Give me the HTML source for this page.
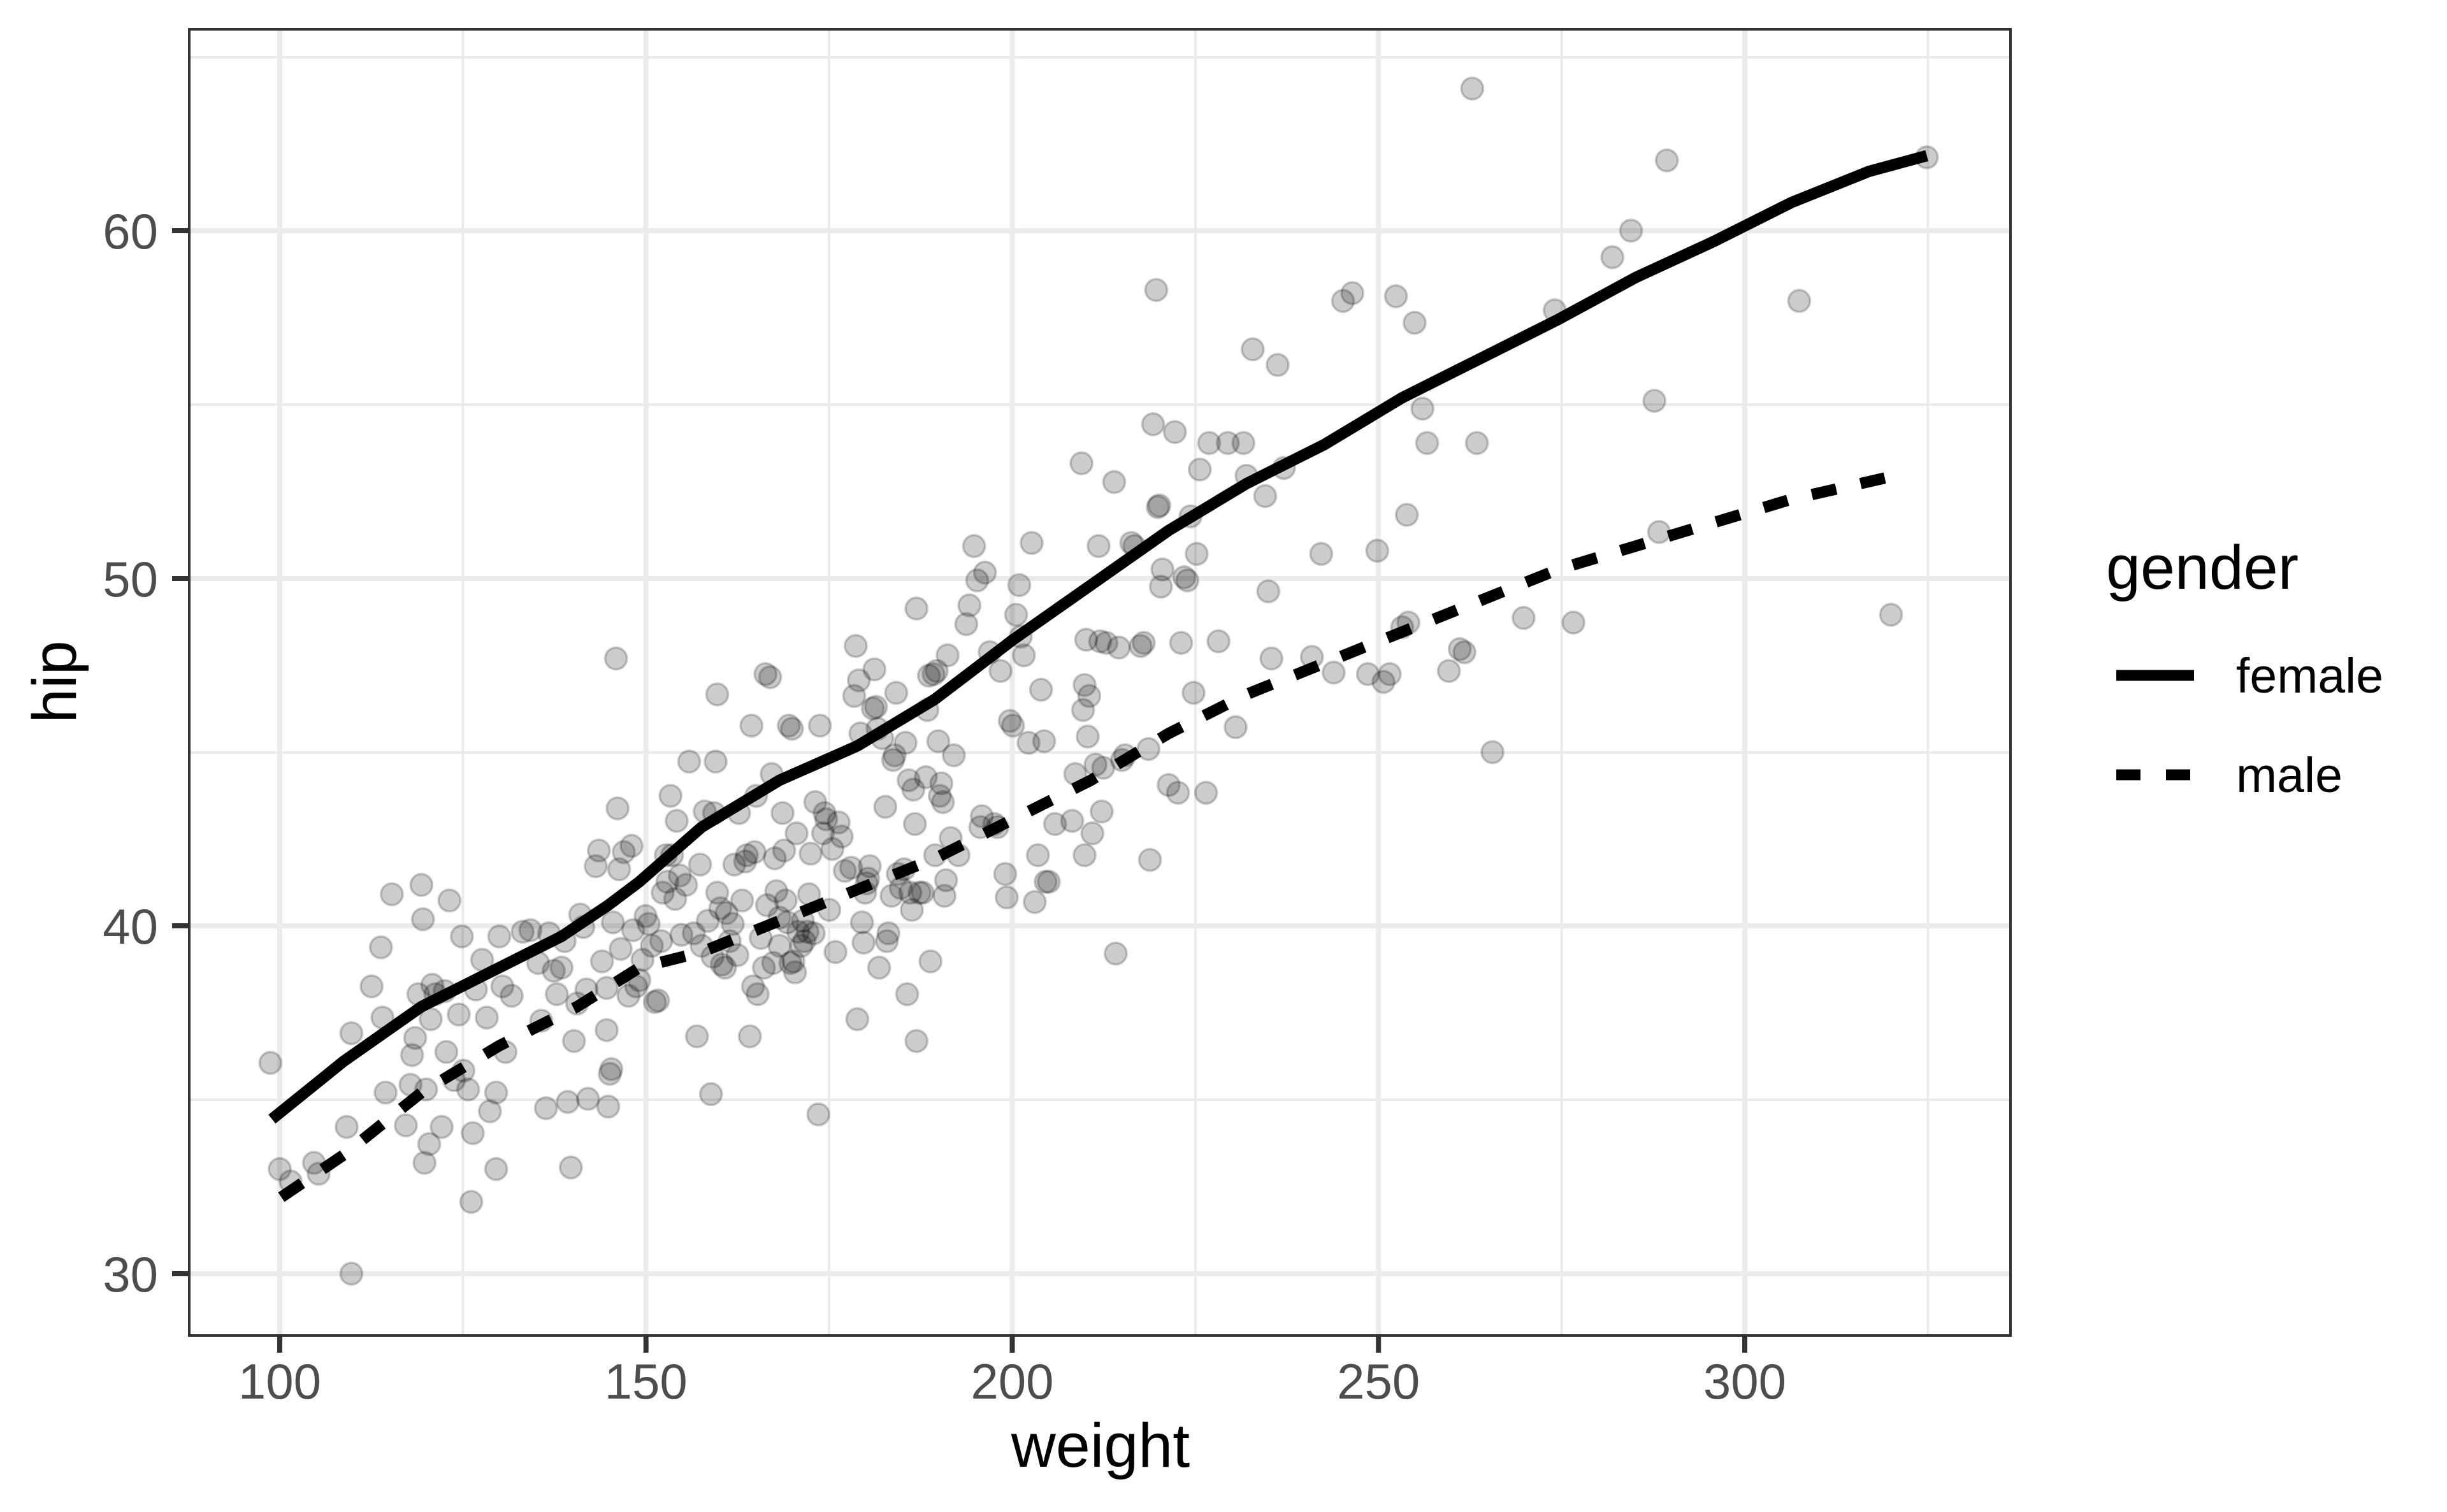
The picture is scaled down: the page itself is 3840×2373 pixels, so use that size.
<!DOCTYPE html>
<html><head><meta charset="utf-8"><style>
html,body{margin:0;padding:0;background:#fff;}
svg{display:block;font-family:"Liberation Sans",Arial,sans-serif;}
</style></head><body>
<svg width="3840" height="2373" viewBox="0 0 3840 2373" xmlns="http://www.w3.org/2000/svg">
<rect width="3840" height="2373" fill="#fff"/>
<defs><clipPath id="pc"><rect x="297" y="46" width="2858" height="2050"/></clipPath></defs>
<!-- minor grid -->
<g stroke="#ebebeb" stroke-width="4">
<line x1="726.4" y1="46" x2="726.4" y2="2096"/>
<line x1="1301" y1="46" x2="1301" y2="2096"/>
<line x1="1876" y1="46" x2="1876" y2="2096"/>
<line x1="2450.6" y1="46" x2="2450.6" y2="2096"/>
<line x1="3025.4" y1="46" x2="3025.4" y2="2096"/>
<line x1="297" y1="1726" x2="3155" y2="1726"/>
<line x1="297" y1="1181" x2="3155" y2="1181"/>
<line x1="297" y1="635" x2="3155" y2="635"/>
<line x1="297" y1="90" x2="3155" y2="90"/>
</g>
<!-- major grid -->
<g stroke="#ebebeb" stroke-width="8">
<line x1="439" y1="46" x2="439" y2="2096"/>
<line x1="1013.7" y1="46" x2="1013.7" y2="2096"/>
<line x1="1588.5" y1="46" x2="1588.5" y2="2096"/>
<line x1="2163.2" y1="46" x2="2163.2" y2="2096"/>
<line x1="2738" y1="46" x2="2738" y2="2096"/>
<line x1="297" y1="1999" x2="3155" y2="1999"/>
<line x1="297" y1="1453" x2="3155" y2="1453"/>
<line x1="297" y1="908" x2="3155" y2="908"/>
<line x1="297" y1="362" x2="3155" y2="362"/>
</g>
<g clip-path="url(#pc)">
<g transform="translate(1.7,-0.7) scale(2.443,2.4506)">
<g fill="rgba(0,0,0,0.2)" stroke="rgba(0,0,0,0.2)" stroke-width="1.5" id="pts"></g>
<polyline fill="none" stroke="#000" stroke-width="7.3" stroke-linejoin="round" points="174,717 220,680 270,645 320,620 360,600 390,580 410,565 450,530 500,500 550,478 600,448 650,410 700,375 750,340 800,310 850,285 900,255 950,230 1000,205 1050,178 1100,155 1150,130 1200,110 1237,100"/>
<polyline fill="none" stroke="#000" stroke-width="7.3" stroke-dasharray="16 16" points="180,767 220,740 270,700 320,670 370,645 410,620 450,610 500,590 550,570 600,550 650,525 700,500 750,470 800,445 850,425 900,405 950,385 1000,365 1050,350 1100,335 1150,320 1212,306"/>
</g>
</g>
<rect x="297" y="46" width="2858" height="2050" fill="none" stroke="#333" stroke-width="4"/>
<!-- ticks -->
<g stroke="#333" stroke-width="8">
<line x1="270" y1="1999" x2="297" y2="1999"/><line x1="270" y1="1453" x2="297" y2="1453"/>
<line x1="270" y1="908" x2="297" y2="908"/><line x1="270" y1="362" x2="297" y2="362"/>
<line x1="439" y1="2096" x2="439" y2="2123"/><line x1="1013.7" y1="2096" x2="1013.7" y2="2123"/>
<line x1="1588.5" y1="2096" x2="1588.5" y2="2123"/><line x1="2163.2" y1="2096" x2="2163.2" y2="2123"/>
<line x1="2738" y1="2096" x2="2738" y2="2123"/>
</g>
<g fill="#4d4d4d" font-size="78" text-anchor="end">
<text x="248" y="2027">30</text><text x="248" y="1481">40</text>
<text x="248" y="936">50</text><text x="248" y="390">60</text>
</g>
<g fill="#4d4d4d" font-size="78" text-anchor="middle">
<text x="439" y="2195">100</text><text x="1013.7" y="2195">150</text>
<text x="1588.5" y="2195">200</text><text x="2163.2" y="2195">250</text>
<text x="2738" y="2195">300</text>
</g>
<text x="1727" y="2302" font-size="97" text-anchor="middle" fill="#000">weight</text>
<text transform="translate(119,1070) rotate(-90)" font-size="97" text-anchor="middle" fill="#000">hip</text>
<text x="3305" y="924" font-size="97" fill="#000">gender</text>
<line x1="3321" y1="1060" x2="3443" y2="1060" stroke="#000" stroke-width="17"/>
<line x1="3321" y1="1216" x2="3443" y2="1216" stroke="#000" stroke-width="17" stroke-dasharray="38 40"/>
<text x="3509" y="1087" font-size="77" fill="#000">female</text>
<text x="3509" y="1243" font-size="77" fill="#000">male</text>
</svg>
<script>
var P=[[173,681],[179,749],[186,757],[201,745],[204,752],[222,722],[225,816],[225,662],[238,632],[244,607],[245,652],[247,700],[251,573],[260,721],[263,695],[264,676],[266,665],[268,637],[270,567],[271,589],[272,745],[275,733],[273,698],[276,653],[277,631],[279,637],[283,722],[285,635],[286,674],[288,577],[291,692],[294,650],[296,600],[297,686],[300,698],[302,770],[303,726],[305,634],[309,615],[312,652],[314,712],[318,749],[318,700],[320,600],[322,632],[324,674],[328,638],[335,597],[340,596],[345,617],[347,654],[350,710],[352,598],[355,622],[357,637],[360,620],[362,603],[364,706],[366,748],[368,667],[370,643],[372,586],[374,594],[376,634],[377,704],[382,555],[384,545],[386,616],[389,633],[389,660],[390,709],[391,688],[392,685],[393,591],[395,422],[396,518],[397,557],[398,608],[400,546],[403,638],[405,542],[406,596],[408,632],[410,628],[412,615],[414,587],[416,592],[418,606],[420,642],[422,641],[424,603],[425,572],[427,548],[428,565],[430,510],[431,548],[433,576],[434,526],[436,561],[437,599],[440,567],[442,488],[445,598],[447,664],[449,554],[450,606],[452,520],[454,590],[456,701],[457,613],[458,521],[459,488],[460,445],[460,572],[462,582],[463,618],[465,620],[466,585],[468,603],[470,592],[471,554],[473,612],[474,521],[476,577],[478,552],[479,548],[481,664],[482,465],[483,632],[484,546],[485,510],[486,637],[488,601],[490,620],[491,432],[492,580],[494,434],[495,496],[496,617],[497,550],[498,571],[500,606],[500,588],[502,521],[503,545],[504,577],[505,591],[506,465],[507,617],[508,467],[509,616],[510,623],[511,534],[512,597],[514,606],[515,590],[516,603],[518,597],[519,573],[520,547],[522,598],[523,514],[525,714],[526,465],[528,534],[529,521],[530,525],[532,583],[534,544],[536,610],[538,527],[540,536],[542,558],[546,556],[548,446],[549,414],[550,653],[551,436],[552,470],[553,591],[554,604],[555,572],[556,566],[557,563],[558,555],[560,454],[561,429],[562,453],[563,467],[564,620],[566,473],[568,517],[569,603],[570,598],[572,574],[573,487],[574,484],[575,444],[576,560],[578,569],[580,557],[581,476],[582,637],[583,500],[584,572],[585,583],[586,506],[587,528],[588,667],[588,390],[590,572],[592,572],[594,498],[595,455],[596,433],[597,616],[599,432],[600,548],[601,430],[602,475],[603,510],[604,502],[605,514],[606,574],[607,564],[608,420],[610,537],[612,484],[615,548],[620,400],[622,388],[625,350],[627,372],[629,530],[630,523],[632,367],[635,418],[638,528],[640,530],[642,430],[645,560],[646,575],[648,462],[650,465],[652,394],[654,375],[655,408],[657,420],[660,476],[662,348],[664,578],[666,548],[668,442],[670,475],[671,565],[673,565],[677,528],[688,526],[690,496],[694,297],[695,455],[696,439],[696,548],[697,410],[698,472],[699,446],[701,534],[703,490],[705,350],[706,411],[707,520],[708,492],[710,412],[715,309],[716,611],[718,415],[720,487],[722,484],[726,348],[728,350],[732,414],[734,412],[737,480],[738,551],[740,272],[742,186],[743,325],[744,324],[745,376],[746,365],[750,503],[754,277],[756,508],[758,412],[760,370],[762,372],[764,331],[766,444],[768,355],[770,301],[774,508],[776,284],[782,411],[788,284],[793,466],[798,284],[800,305],[804,224],[812,318],[814,379],[816,422],[820,234],[824,300],[842,421],[848,355],[856,431],[862,193],[868,188],[878,432],[884,353],[888,437],[892,432],[896,190],[900,402],[903,330],[904,399],[908,207],[913,262],[916,284],[930,430],[937,416],[940,418],[948,284],[945,57],[958,482],[978,396],[998,199],[1010,399],[1035,165],[1047,148],[1062,257],[1065,341],[1070,103],[1155,193],[1214,394],[1237,101]];
var g=document.getElementById('pts'),s='';
for(var i=0;i<P.length;i++){s+='<circle cx="'+P[i][0]+'" cy="'+P[i][1]+'" r="7"/>';}
g.innerHTML=s;
</script>
</body></html>
